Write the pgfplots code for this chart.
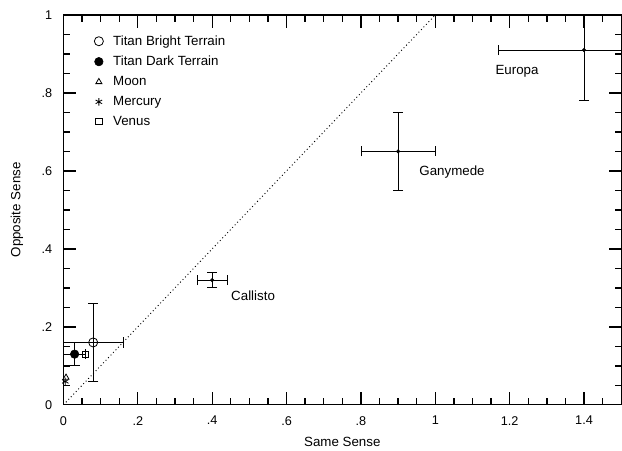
\documentclass[border=0pt]{standalone}
\usepackage{fontspec}
\setmainfont{Liberation Sans}
\usepackage{pgfplots}
\pgfplotsset{compat=1.18}
\begin{document}
\begin{tikzpicture}
\begin{axis}[
  scale only axis, width=418.5pt, height=292.5pt,
  xmin=0, xmax=1.5, ymin=0, ymax=1,
  xtick={0,0.2,0.4,0.6,0.8,1,1.2,1.4}, xticklabels={0,.2,.4,.6,.8,1,1.2,1.4},
  ytick={0,0.2,0.4,0.6,0.8,1}, yticklabels={0,.2,.4,.6,.8,1},
  minor x tick num=3, minor y tick num=3,
  xtick pos=both, ytick pos=both,
  tick align=inside,
  major tick length=9.5pt, minor tick length=5pt,
  every tick/.style={black, line width=1pt},
  axis line style={line width=0.8pt},
  xticklabel style={font=\fontsize{9.5}{11}\selectfont, yshift=-5pt},
  yticklabel style={font=\fontsize{9.5}{11}\selectfont, xshift=-5pt},
  xlabel style={font=\fontsize{10}{12}\selectfont, yshift=-2pt},
  ylabel style={font=\fontsize{10}{12}\selectfont, yshift=7pt},
  xlabel={Same Sense}, ylabel={Opposite Sense},
  legend cell align=left,
  legend image code/.code={\path (0cm,0cm) (0.6cm,0cm);
     \draw[#1, mark repeat=2, mark phase=2] plot coordinates {(0cm,0cm) (0.3cm,0cm) (0.6cm,0cm)};},
  legend style={draw=none, fill=none, at={(0.035,0.962)}, anchor=north west,
    font=\fontsize{10}{12}\selectfont, row sep=2.6pt},
  error bars/error mark options={rotate=90, mark size=3.8pt, line width=0.6pt},
  error bars/error bar style={line width=0.6pt},
]
\addplot[black, dotted, line width=0.7pt, forget plot] coordinates {(0,0) (1,1)};
% Titan Bright Terrain
\addplot[black, only marks, mark=o, mark size=3.4pt, mark options={fill=white, line width=0.6pt},
  error bars/.cd, x dir=both, x explicit, y dir=both, y explicit]
  coordinates {(0.08,0.16) +- (0.08,0.10)};
\addlegendentry{Titan Bright Terrain}
% Titan Dark Terrain
\addplot[black, only marks, mark=*, mark size=3.2pt,
  error bars/.cd, x dir=both, x explicit, y dir=both, y explicit]
  coordinates {(0.03,0.13) +- (0.03,0.03)};
\addlegendentry{Titan Dark Terrain}
% Moon
\addplot[black, only marks, mark=triangle, mark size=2.6pt, mark options={line width=0.6pt}]
  coordinates {(0.007,0.07)};
\addlegendentry{Moon}
% Mercury
\addplot[black, only marks, mark=asterisk, mark size=2.8pt, mark options={line width=0.6pt}]
  coordinates {(0.005,0.06)};
\addlegendentry{Mercury}
% Venus
\addplot[black, only marks, mark=square, mark size=2.3pt, mark options={line width=0.6pt}]
  coordinates {(0.06,0.13)};
\addlegendentry{Venus}
% Callisto, Ganymede, Europa
\addplot[black, only marks, mark=*, mark size=1.3pt, forget plot,
  error bars/.cd, x dir=both, x explicit, y dir=both, y explicit]
  coordinates {(0.40,0.32) +- (0.04,0.02)
               (0.90,0.65) +- (0.10,0.10)
               (1.40,0.91) +- (0.23,0.13)};
\node[font=\fontsize{10}{12}\selectfont] at (axis cs:1.22,0.855) {Europa};
\node[font=\fontsize{10}{12}\selectfont] at (axis cs:1.045,0.597) {Ganymede};
\node[font=\fontsize{10}{12}\selectfont] at (axis cs:0.51,0.28) {Callisto};
\end{axis}
% tick marks on all four sides (every 0.05, longer at labelled values)
\foreach \i in {0,...,30}{
  \pgfmathsetmacro\tl{mod(\i,4)==0 ? 9.5 : 5}
  \draw[black, line width=1pt] ([xshift=\i*13.95pt]current axis.south west) -- ++(0,\tl pt);
  \draw[black, line width=1pt] ([xshift=\i*13.95pt]current axis.north west) -- ++(0,-\tl pt);
}
\foreach \i in {0,...,20}{
  \pgfmathsetmacro\tl{mod(\i,4)==0 ? 9.5 : 5}
  \draw[black, line width=1pt] ([yshift=\i*14.625pt]current axis.south west) -- ++(\tl pt,0);
  \draw[black, line width=1pt] ([yshift=\i*14.625pt]current axis.south east) -- ++(-\tl pt,0);
}
\path ([shift={(-47.6pt,-33pt)}]current axis.south west) ([shift={(0.6pt,11.25pt)}]current axis.north east);
\end{tikzpicture}
\end{document}
